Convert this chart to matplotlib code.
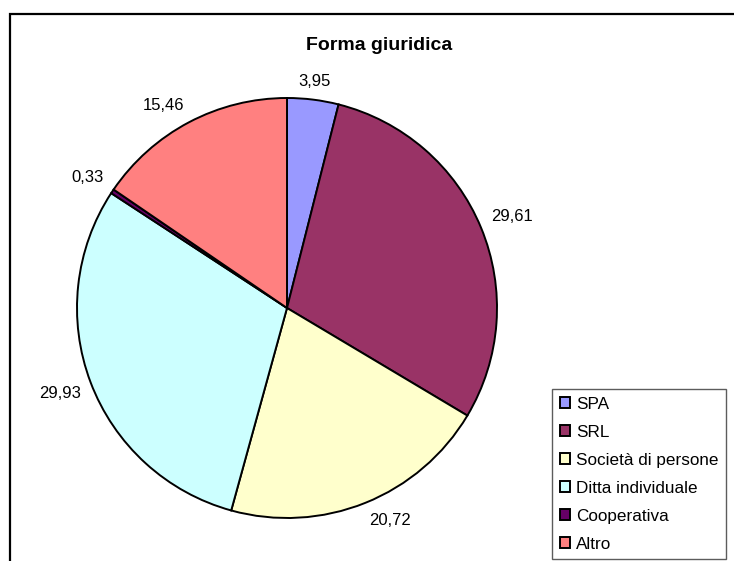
import numpy as np
import matplotlib.pyplot as plt
from matplotlib.patches import Rectangle, Patch

# dati del grafico
categorie = ['SPA', 'SRL', 'Società di persone', 'Ditta individuale', 'Cooperativa', 'Altro']
valori = [3.95, 29.61, 20.72, 29.93, 0.33, 15.46]
colori = ['#9999FF', '#993366', '#FFFFCC', '#CCFFFF', '#660066', '#FF8080']
etichette = ['3,95', '29,61', '20,72', '29,93', '0,33', '15,46']

plt.rcParams['font.family'] = ['Liberation Sans', 'DejaVu Sans']

W, H = 734, 561
fig = plt.figure(figsize=(W / 100, H / 100), dpi=100)

# cornice dell'area del grafico (tagliata a destra e in basso)
fig.patches.append(Rectangle((10 / W, -0.05), 1.1, 1 - 14 / H + 0.05,
                             transform=fig.transFigure, fill=False,
                             edgecolor='black', linewidth=1.6))

cx, cy, r = 287, 308, 210
ax = fig.add_axes([(cx - r) / W, (H - cy - r) / H, 2 * r / W, 2 * r / H])
wedges, _ = ax.pie(valori, colors=colori, startangle=90, counterclock=False,
                   wedgeprops=dict(edgecolor='black', linewidth=1.4))

# etichette stile Excel: ancorate appena fuori dal bordo
for w, testo in zip(wedges, etichette):
    ang = np.deg2rad((w.theta1 + w.theta2) / 2)
    x, y = 1.05 * np.cos(ang), 1.05 * np.sin(ang)
    ha = 'left' if x > 0.15 else ('right' if x < -0.15 else 'center')
    va = 'bottom' if y > 0.3 else ('top' if y < -0.3 else 'center')
    ax.text(x, y, testo, ha=ha, va=va, fontsize=12)

ax.set_xlim(-1, 1)
ax.set_ylim(-1, 1)
ax.set_aspect('equal')
ax.axis('off')

fig.text(379 / W, 1 - 46 / H, 'Forma giuridica', ha='center', va='center',
         fontsize=14, fontweight='bold')

handles = [Patch(facecolor=c, edgecolor='black', linewidth=1.4) for c in colori]
leg = fig.legend(handles, categorie, loc='upper left',
                 bbox_to_anchor=(552 / W, 1 - 389 / H), fontsize=12.3,
                 frameon=True, fancybox=False, edgecolor='#333333',
                 handlelength=0.6, handleheight=0.6, handletextpad=0.35,
                 labelspacing=0.76, borderpad=0.45, borderaxespad=0)
leg.get_frame().set_linewidth(1.0)

plt.savefig('out.png', dpi=100)
